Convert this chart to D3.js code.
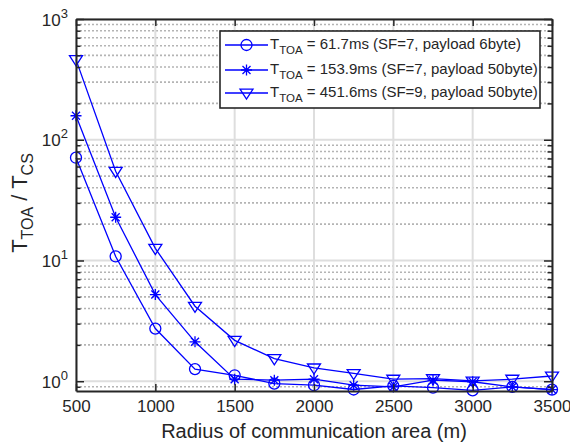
<!DOCTYPE html>
<html>
<head>
<meta charset="utf-8">
<script src="https://cdn.jsdelivr.net/npm/d3@7"></script>
<style>
  body { margin: 0; background: #fff; }
  svg text { font-family: "Liberation Sans", Arial, Helvetica, sans-serif; fill: #262626; }
</style>
</head>
<body>
<div id="chart"></div>
<script>
// radius of communication area (m)
const radius = [500, 750, 1000, 1250, 1500, 1750, 2000, 2250, 2500, 2750, 3000, 3250, 3500];

// T_TOA / T_CS for each setting
const toa61 = [71, 10.8, 2.73, 1.26, 1.12, 0.957, 0.927, 0.854, 0.915, 0.886, 0.84, 0.897, 0.853];
const toa153 = [158, 22.8, 5.22, 2.12, 1.04, 1.02, 1.04, 0.927, 0.897, 1.02, 0.99, 0.897, 0.853];
const toa451 = [461, 54.8, 12.6, 4.18, 2.18, 1.54, 1.29, 1.16, 1.04, 1.05, 1.005, 1.04, 1.105];

const seriesNames = [
  { t: "61.7ms (SF=7, payload 6byte)", marker: "circle" },
  { t: "153.9ms (SF=7, payload 50byte)", marker: "star" },
  { t: "451.6ms (SF=9, payload 50byte)", marker: "tri" }
];
const xTicks = [500, 1000, 1500, 2000, 2500, 3000, 3500];
const yMajor = [1, 10, 100, 1000];

const config = { left: 76, top: 19, width: 476, height: 372, W: 570, H: 446 };
const blue = "#0000ff";

const svg = d3.select("#chart").append("svg")
  .attr("width", config.W).attr("height", config.H);

const g = svg.append("g").attr("transform", `translate(${config.left},${config.top})`);

const x = d3.scaleLinear().domain([500, 3500]).range([0, config.width]);
const y = d3.scaleLog().domain([0.83, 1000]).range([config.height, 0]);

// minor tick values of the log axis
let yMinor = [];
[0.1, 1, 10, 100].forEach(d => {
  for (let k = 2; k <= 9; k++) {
    const v = d * k;
    if (v >= 0.83 && v <= 1000) yMinor.push(v);
  }
});

// grid
g.append("g").selectAll("line.ymin").data(yMinor).enter().append("line")
  .attr("x1", 0).attr("x2", config.width)
  .attr("y1", d => y(d)).attr("y2", d => y(d))
  .attr("stroke", "#b4b4b4").attr("stroke-width", 1.6).attr("stroke-dasharray", "2,2");
g.append("g").selectAll("line.ymaj").data(yMajor).enter().append("line")
  .attr("x1", 0).attr("x2", config.width)
  .attr("y1", d => y(d)).attr("y2", d => y(d))
  .attr("stroke", "#dedede").attr("stroke-width", 2);
g.append("g").selectAll("line.xmaj").data(xTicks).enter().append("line")
  .attr("y1", 0).attr("y2", config.height)
  .attr("x1", d => x(d)).attr("x2", d => x(d))
  .attr("stroke", "#dedede").attr("stroke-width", 2);

// series
const series = [toa61, toa153, toa451];
const line = d3.line().x((d, i) => x(radius[i])).y(d => y(d));

function drawMarker(sel, type, cx, cy) {
  if (type === "circle") {
    sel.append("circle").attr("cx", cx).attr("cy", cy).attr("r", 5.5)
      .attr("fill", "none").attr("stroke", blue).attr("stroke-width", 1.3);
  } else if (type === "star") {
    const r = 5.5, r2 = 4;
    const p = `M${cx - r},${cy}L${cx + r},${cy}M${cx},${cy - r}L${cx},${cy + r}` +
      `M${cx - r2},${cy - r2}L${cx + r2},${cy + r2}M${cx - r2},${cy + r2}L${cx + r2},${cy - r2}`;
    sel.append("path").attr("d", p).attr("stroke", blue).attr("stroke-width", 1.3).attr("fill", "none");
  } else {
    const s = 6.5;
    const p = `M${cx - s},${cy - s * 0.6}L${cx + s},${cy - s * 0.6}L${cx},${cy + s * 0.95}Z`;
    sel.append("path").attr("d", p).attr("stroke", blue).attr("stroke-width", 1.3).attr("fill", "none");
  }
}

series.forEach((data, si) => {
  g.append("path").datum(data).attr("d", line)
    .attr("fill", "none").attr("stroke", blue).attr("stroke-width", 1.3);
  const mg = g.append("g");
  data.forEach((d, i) => drawMarker(mg, seriesNames[si].marker, x(radius[i]), y(d)));
});

// axes (ticks inside, box)
const axisStyle = sel => {
  sel.select(".domain").attr("stroke", "#262626").attr("stroke-width", 2);
  sel.selectAll(".tick line").attr("stroke", "#262626").attr("stroke-width", 1.5);
};
const xb = g.append("g").attr("transform", `translate(0,${config.height})`)
  .call(d3.axisBottom(x).tickValues(xTicks).tickSizeInner(-7).tickSizeOuter(0).tickPadding(9).tickFormat(d3.format("d")));
xb.call(axisStyle);
xb.selectAll(".tick text").attr("font-size", 17).attr("fill", "#262626").style("font-family", "Liberation Sans, Arial, sans-serif");
const xt = g.append("g")
  .call(d3.axisTop(x).tickValues(xTicks).tickSizeInner(-7).tickSizeOuter(0).tickFormat(""));
xt.call(axisStyle);

const yl = g.append("g")
  .call(d3.axisLeft(y).tickValues(yMajor).tickSizeInner(-8).tickSizeOuter(0).tickPadding(8).tickFormat(""));
yl.call(axisStyle);
g.append("g").call(d3.axisLeft(y).tickValues(yMinor).tickSizeInner(-4.5).tickSizeOuter(0).tickFormat(""))
  .call(axisStyle).select(".domain").remove();
const yr = g.append("g").attr("transform", `translate(${config.width},0)`)
  .call(d3.axisRight(y).tickValues(yMajor).tickSizeInner(-8).tickSizeOuter(0).tickFormat(""));
yr.call(axisStyle);
g.append("g").attr("transform", `translate(${config.width},0)`)
  .call(d3.axisRight(y).tickValues(yMinor).tickSizeInner(-4.5).tickSizeOuter(0).tickFormat(""))
  .call(axisStyle).select(".domain").remove();

// y tick labels 10^n
yl.selectAll(".tick").each(function (d) {
  const t = d3.select(this).append("text")
    .attr("x", -8).attr("y", 6).attr("text-anchor", "end").attr("font-size", 17)
    .attr("fill", "#262626").style("font-family", "Liberation Sans, Arial, sans-serif");
  t.append("tspan").text("10");
  t.append("tspan").attr("dy", -8).attr("font-size", 13).text(Math.round(Math.log10(d)));
});

// axis labels
svg.append("text").attr("x", config.left + config.width / 2).attr("y", 438)
  .attr("text-anchor", "middle").attr("font-size", 20).text("Radius of communication area (m)");

const ylab = svg.append("text").attr("transform", `translate(27,${config.top + config.height / 2 - 2}) rotate(-90)`)
  .attr("text-anchor", "middle").attr("font-size", 22);
ylab.append("tspan").text("T");
ylab.append("tspan").attr("dy", 6).attr("font-size", 16).text("TOA");
ylab.append("tspan").attr("dy", -6).text(" / T");
ylab.append("tspan").attr("dy", 6).attr("font-size", 16).text("CS");

// legend
const lg = svg.append("g");
lg.append("rect").attr("x", 220).attr("y", 31).attr("width", 320).attr("height", 77)
  .attr("fill", "#fff").attr("stroke", "#262626").attr("stroke-width", 1.6);
const rowY = [45, 70, 93];
seriesNames.forEach((s, i) => {
  lg.append("line").attr("x1", 225).attr("x2", 268).attr("y1", rowY[i]).attr("y2", rowY[i])
    .attr("stroke", blue).attr("stroke-width", 1.3);
  drawMarker(lg, s.marker, 246.5, rowY[i]);
  const t = lg.append("text").attr("x", 270).attr("y", rowY[i] + 4).attr("font-size", 15).attr("fill", "#000");
  t.append("tspan").text("T");
  t.append("tspan").attr("dy", 5).attr("font-size", 11.5).text("TOA");
  t.append("tspan").attr("dy", -5).text(" = " + s.t);
});
</script>
</body>
</html>
